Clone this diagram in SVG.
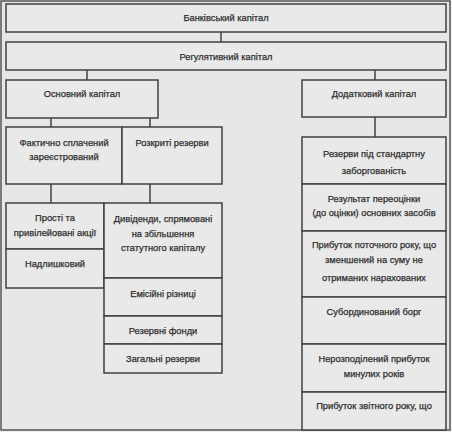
<svg xmlns="http://www.w3.org/2000/svg" width="452" height="432" viewBox="0 0 452 432">
<style>
.b{fill:#e9e9e9;stroke:#404040;stroke-width:1.5}
.c{stroke:#404040;stroke-width:1.5;fill:none}
text{font-family:"Liberation Sans",Arial,sans-serif;font-size:9.3px;fill:#2e2e2e;stroke:#2e2e2e;stroke-width:0.25;text-anchor:middle}
</style>
<rect x="0" y="0" width="452" height="432" fill="#eeeeee"/>
<rect x="1" y="1" width="449" height="429" fill="#e7e7e7" stroke="#555" stroke-width="1.5"/>
<g id="connectors">
<line class="c" x1="221" y1="32" x2="221" y2="42"/>
<line class="c" x1="87" y1="70" x2="87" y2="80"/>
<line class="c" x1="375" y1="70" x2="375" y2="80"/>
<line class="c" x1="51" y1="118" x2="51" y2="127"/>
<line class="c" x1="150" y1="118" x2="150" y2="127"/>
<line class="c" x1="51" y1="184" x2="51" y2="203"/>
<line class="c" x1="150" y1="184" x2="150" y2="203"/>
<line class="c" x1="375" y1="117" x2="375" y2="137"/>
</g>
<g id="bank"><rect class="b" x="6" y="4" width="440" height="28"/><text x="226" y="20.5">Банківський капітал</text></g>
<g id="reg"><rect class="b" x="6" y="42" width="440" height="28"/><text x="226" y="59.5">Регулятивний капітал</text></g>
<g id="osn"><rect class="b" x="6" y="80" width="152" height="38"/><text x="82" y="96.5">Основний капітал</text></g>
<g id="dod"><rect class="b" x="302" y="80" width="144" height="37"/><text x="374" y="96.5">Додатковий капітал</text></g>
<g id="fakt"><rect class="b" x="6" y="127" width="116" height="57"/><text x="64" y="145.5">Фактично сплачений</text><text x="64" y="159.5">зареєстрований</text></g>
<g id="rozk"><rect class="b" x="122" y="127" width="100" height="57"/><text x="172" y="145.5">Розкриті резерви</text></g>
<g id="prosti"><rect class="b" x="6" y="203" width="98" height="46"/><text x="55" y="220.5">Прості та</text><text x="55" y="235.5">привілейовані акції</text></g>
<g id="nadl"><rect class="b" x="6" y="249" width="98" height="39"/><text x="55" y="266.5">Надлишковий</text></g>
<g id="dyv"><rect class="b" x="104" y="203" width="118" height="75"/><text x="163" y="221.5">Дивіденди, спрямовані</text><text x="163" y="236.5">на збільшення</text><text x="163" y="250.5">статутного капіталу</text></g>
<g id="emis"><rect class="b" x="104" y="278" width="118" height="38"/><text x="163" y="296.5">Емісійні різниці</text></g>
<g id="rezf"><rect class="b" x="104" y="316" width="118" height="28"/><text x="163" y="333.5">Резервні фонди</text></g>
<g id="zag"><rect class="b" x="104" y="344" width="118" height="29"/><text x="163" y="361.5">Загальні резерви</text></g>
<g id="rst"><rect class="b" x="302" y="137" width="144" height="47"/><text x="374" y="156.5">Резерви під стандартну</text><text x="374" y="173.5">заборгованість</text></g>
<g id="pereoc"><rect class="b" x="302" y="184" width="144" height="47"/><text x="374" y="201.5">Результат переоцінки</text><text x="374" y="215.5">(до оцінки) основних засобів</text></g>
<g id="potoch"><rect class="b" x="302" y="231" width="144" height="66"/><text x="374" y="247.5">Прибуток поточного року, що</text><text x="374" y="262.5">зменшений на суму не</text><text x="374" y="280.5">отриманих нарахованих</text></g>
<g id="sub"><rect class="b" x="302" y="297" width="144" height="47"/><text x="374" y="314.5">Субординований борг</text></g>
<g id="neroz"><rect class="b" x="302" y="344" width="144" height="48"/><text x="374" y="361.5">Нерозподілений прибуток</text><text x="374" y="376.5">минулих років</text></g>
<g id="zvit"><rect class="b" x="302" y="392" width="144" height="38"/><text x="374" y="408.5">Прибуток звітного року, що</text></g>
</svg>
